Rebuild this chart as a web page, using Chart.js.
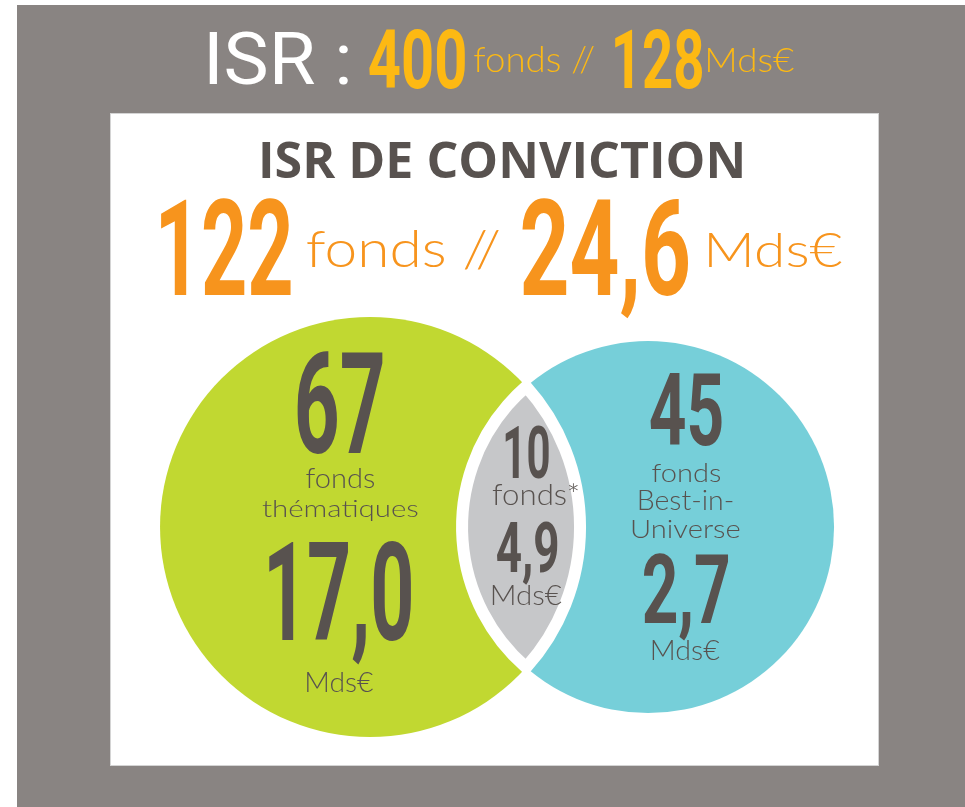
<!DOCTYPE html>
<html>
<head>
<meta charset="utf-8">
<script src="https://cdn.jsdelivr.net/npm/chart.js@4.4.1/dist/chart.umd.min.js"></script>
<style>
  body { margin: 0; background: #fff; }
  canvas { display: block; }
</style>
</head>
<body>
<canvas id="venn" width="965" height="807"></canvas>
<script>
// values
const isrTotals = [400, 128];            // all ISR funds: count, Mds€
const groupNames = ['thématiques', 'both', 'Best-in-Universe'];
const fundCounts = [67, 10, 45];         // green only, overlap, blue only
const assetsBn = [17.0, 4.9, 2.7];       // Mds€
const groupWords = [['fonds', 'thématiques'], ['fonds*'], ['fonds', 'Best-in-', 'Universe']];
const unitLabel = 'Mds€';

// look
const GREEN = '#c1d831', BLUE = '#76cfd9', LENS = '#c6c7c9';
const DARK = '#58524f', ORANGE = '#f7941d', YELLOW = '#fdb913', BG = '#898482';
const radii = [210, 186];

const BIG = '700 100px Roboto, "DejaVu Sans Condensed"';
const LIGHT = '300 100px Lato, "Open Sans"';

const fmt = v => v.toFixed(1).replace('.', ',');

// draw text squeezed into a box: centre x, ink top, baseline, ink width
function fitText(ctx, str, font, color, cx, top, base, width) {
  ctx.save();
  ctx.font = font;
  ctx.textAlign = 'left';
  ctx.textBaseline = 'alphabetic';
  const m = ctx.measureText(str);
  const w = m.actualBoundingBoxLeft + m.actualBoundingBoxRight;
  const h = m.actualBoundingBoxAscent;
  ctx.translate(cx - width / 2, base);
  ctx.scale(width / w, (base - top) / h);
  ctx.fillStyle = color;
  ctx.fillText(str, m.actualBoundingBoxLeft, 0);
  ctx.restore();
}

// label boxes relative to the anchor (circle centre or lens centre)
const labelLayout = [
  { dx: -30, num: [-175, -74, 86], words: [[-59, -39, 68], [-27, -10, 155]], amount: [13, 113, 142], unit: [145, 165, 66] },
  { dx: 1, num: [-102, -49, 43], words: [[-44, -22, 85, 8]], amount: [-7, 45, 61], unit: [58, 78, 69] },
  { dx: 38, num: [-154, -82, 72], words: [[-64, -45, 68], [-37, -17, 93], [-8, 11, 107]], amount: [25, 96, 85], unit: [113, 133, 67] }
];

const backdrop = {
  id: 'backdrop',
  beforeDraw(chart) {
    const ctx = chart.ctx;
    ctx.save();
    ctx.fillStyle = '#fff';
    ctx.fillRect(0, 0, chart.width, chart.height);
    ctx.fillStyle = BG;
    ctx.fillRect(17, 5, chart.width - 17, chart.height - 5);
    ctx.fillStyle = '#fff';
    ctx.fillRect(110, 113, 769, 653);
    ctx.strokeStyle = '#d4d4d4';
    ctx.lineWidth = 1;
    ctx.strokeRect(110.5, 113.5, 768, 652);
    ctx.restore();
  }
};

const lensAndLabels = {
  id: 'lensAndLabels',
  afterDatasetsDraw(chart) {
    const ctx = chart.ctx;
    const pts = chart.getDatasetMeta(0).data;
    const c1 = pts[0], c2 = pts[1];
    const r1 = c1.options.radius, r2 = c2.options.radius;
    const ddx = c2.x - c1.x, ddy = c2.y - c1.y;
    const d = Math.hypot(ddx, ddy);
    const al = Math.atan2(ddy, ddx);
    const t1 = Math.acos((d * d + r1 * r1 - r2 * r2) / (2 * d * r1));
    const t2 = Math.acos((d * d + r2 * r2 - r1 * r1) / (2 * d * r2));
    const a = (d * d + r1 * r1 - r2 * r2) / (2 * d);
    const lens = { x: c1.x + a * Math.cos(al), y: c1.y + a * Math.sin(al) };

    ctx.save();
    ctx.beginPath();
    ctx.arc(c1.x, c1.y, r1, al - t1, al + t1, false);
    ctx.arc(c2.x, c2.y, r2, al + Math.PI - t2, al + Math.PI + t2, false);
    ctx.closePath();
    ctx.fillStyle = LENS;
    ctx.fill();
    ctx.strokeStyle = '#fff';
    ctx.lineWidth = 12;
    ctx.stroke();
    ctx.restore();

    const anchors = [c1, lens, c2];
    anchors.forEach((p, i) => {
      const L = labelLayout[i];
      const cx = p.x + L.dx, cy = (c1.y + c2.y) / 2;
      fitText(ctx, String(fundCounts[i]), BIG, DARK, cx, cy + L.num[0], cy + L.num[1], L.num[2]);
      groupWords[i].forEach((w, j) => {
        const b = L.words[j];
        fitText(ctx, w, LIGHT, DARK, cx + (b[3] || 0), cy + b[0], cy + b[1], b[2]);
      });
      fitText(ctx, fmt(assetsBn[i]), BIG, DARK, cx, cy + L.amount[0], cy + L.amount[1], L.amount[2]);
      fitText(ctx, unitLabel, LIGHT, DARK, cx, cy + L.unit[0], cy + L.unit[1], L.unit[2]);
    });
  }
};

const headings = {
  id: 'headings',
  afterDraw(chart) {
    const ctx = chart.ctx;
    const totalFunds = fundCounts.reduce((s, v) => s + v, 0);
    const totalAssets = assetsBn.reduce((s, v) => s + v, 0);
    // top band
    fitText(ctx, 'ISR :', '400 100px Roboto', '#fff', 278.5, 32, 84, 139);
    fitText(ctx, String(isrTotals[0]), BIG, YELLOW, 417, 28, 88, 96);
    fitText(ctx, 'fonds //', LIGHT, YELLOW, 534, 46, 72, 120);
    fitText(ctx, String(isrTotals[1]), BIG, YELLOW, 658.5, 28, 88, 87);
    fitText(ctx, unitLabel, LIGHT, YELLOW, 751, 48, 72, 86);
    // panel heading
    fitText(ctx, 'ISR DE CONVICTION', '700 100px "Open Sans"', DARK, 502, 142, 178, 480);
    fitText(ctx, String(totalFunds), BIG, ORANGE, 226, 198, 295, 130);
    fitText(ctx, 'fonds //', LIGHT, ORANGE, 403, 229, 267, 192);
    fitText(ctx, fmt(totalAssets), BIG, ORANGE, 605, 198, 295, 166);
    fitText(ctx, unitLabel, LIGHT, ORANGE, 775.5, 232, 267, 133);
  }
};

new Chart(document.getElementById('venn'), {
  type: 'bubble',
  data: {
    datasets: [{
      label: 'ISR de conviction',
      data: [
        { x: 0, y: 0, r: radii[0] },
        { x: 1, y: 0, r: radii[1] }
      ],
      backgroundColor: [GREEN, BLUE],
      borderWidth: 0,
      hoverRadius: 0,
      clip: false
    }]
  },
  options: {
    responsive: false,
    animation: false,
    events: [],
    layout: { padding: 0, autoPadding: false },
    scales: {
      x: { type: 'linear', display: false, min: -1.331, max: 2.140 },
      y: { type: 'linear', display: false, min: -1.007, max: 1.896 }
    },
    plugins: {
      legend: { display: false },
      tooltip: { enabled: false }
    }
  },
  plugins: [backdrop, lensAndLabels, headings]
});
</script>
</body>
</html>
